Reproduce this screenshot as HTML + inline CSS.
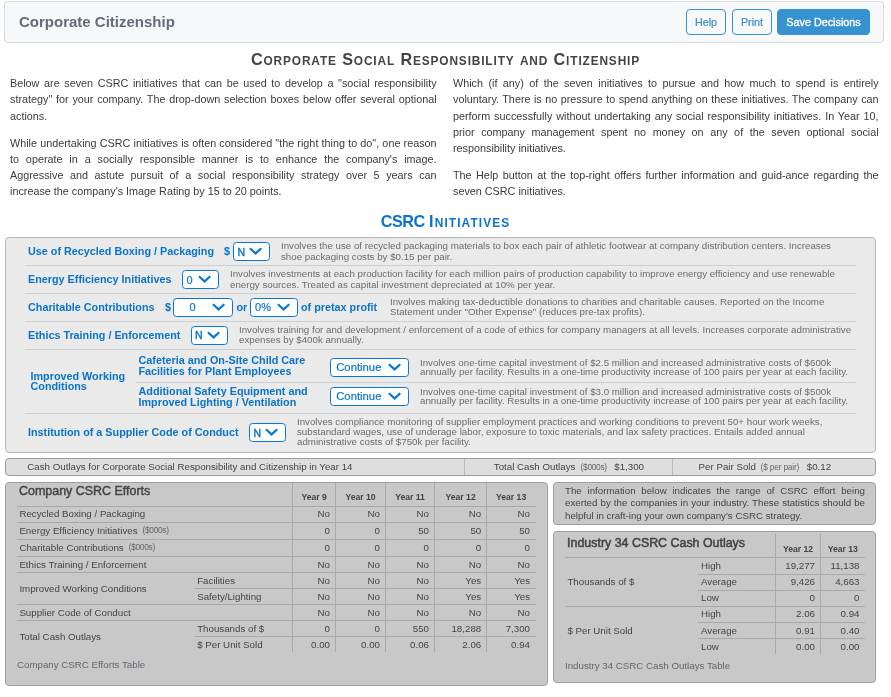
<!DOCTYPE html>
<html><head><meta charset="utf-8"><title>Corporate Citizenship</title>
<style>
*{box-sizing:border-box;margin:0;padding:0}
html,body{width:891px;height:697px;overflow:hidden;background:#fff}
body{position:relative;font-family:"Liberation Sans",Arial,sans-serif;color:#444}
.a{position:absolute;white-space:nowrap}
.hdr{position:absolute;left:4px;top:1px;width:880px;height:42px;border:1px solid #d6d9dc;border-radius:4px;background:#f7f8fa}
.hdr h1{position:absolute;left:14px;top:11px;font-size:15px;line-height:18px;font-weight:bold;color:#636c76}
.btn{position:absolute;top:9px;height:26px;border:1px solid #3a8fd0;border-radius:4px;color:#3a8fd0;font-size:10.8px;line-height:24px;text-align:center;background:transparent;-webkit-text-stroke:0.2px #3a8fd0}
.btn.s{background:#3692d0;color:#fff;border-color:#3692d0;-webkit-text-stroke:0.35px #fff}
.ttl{position:absolute;left:0;width:891px;text-align:center;font-weight:bold;font-size:16.2px;line-height:20px}
.ttl .sc{font-size:11.9px;text-transform:uppercase}
.col{position:absolute;top:75.15px;font-size:10.8px;line-height:16.2px;color:#3a3a3a}
.col p{margin-bottom:10.8px}
.col span{display:block;text-align:justify;text-align-last:justify}
.col span.l{text-align-last:left}
.box{position:absolute;left:5px;top:237px;width:871px;height:216px;border:1px solid #b9b9b9;border-radius:4px;background:#eaeaea}
.sep{position:absolute;height:1px;background:#cfcfcf}
.lb{position:absolute;white-space:nowrap;font-weight:bold;font-size:10.8px;line-height:12px;color:#0a74cc}
.ds{position:absolute;white-space:nowrap;font-size:9.72px;line-height:11px;color:#6c6c6c}
.sel{position:absolute;height:19px;border:1px solid #0a78d0;border-radius:3.5px;background:#fff;color:#0a74cc;font-size:11px;line-height:17px}
.sel span{position:absolute;top:0}
.sel svg{position:absolute}
.bar{position:absolute;left:5px;top:458px;width:871px;height:18px;border:1px solid #9c9c9c;border-radius:4px;background:#dedede;font-size:9.72px;line-height:16px;color:#444}
.bar .c{position:absolute;top:0;height:16px;border-left:1px solid #b9b9b9}
.sm{font-size:7.6px}
.sm2{position:absolute;top:-1.2px;font-size:8.4px;letter-spacing:-0.31px;color:#666}
.pnl{position:absolute;border:1px solid #9e9e9e;border-radius:4px;background:#c8c8c8}
table{border-collapse:collapse;table-layout:fixed;position:absolute;font-size:9.72px;color:#444}
td,th{padding:0;height:16.2px;line-height:12px;white-space:nowrap;overflow:hidden}
</style></head>
<body>
<div class="hdr">
  <h1>Corporate Citizenship</h1>
</div>
<div class="btn" style="left:686px;width:40px">Help</div>
<div class="btn" style="left:732px;width:40px">Print</div>
<div class="btn s" style="left:777px;width:93px">Save Decisions</div>

<div class="ttl" style="top:48.8px;letter-spacing:0.85px">C<span class="sc">orporate</span> S<span class="sc">ocial</span> R<span class="sc">esponsibility</span> <span class="sc">and</span> C<span class="sc">itizenship</span></div>

<div class="col" style="left:10px;width:426.6px">
<p><span>Below are seven CSRC initiatives that can be used to develop a "social responsibility</span><span>strategy" for your company. The drop-down selection boxes below offer several optional</span><span class="l">actions.</span></p>
<p><span>While undertaking CSRC initiatives is often considered "the right thing to do", one reason</span><span>to operate in a socially responsible manner is to enhance the company's image.</span><span>Aggressive and astute pursuit of a social responsibility strategy over 5 years can</span><span class="l">increase the company's Image Rating by 15 to 20 points.</span></p>
</div>
<div class="col" style="left:453px;width:425.6px">
<p><span>Which (if any) of the seven initiatives to pursue and how much to spend is entirely</span><span>voluntary. There is no pressure to spend anything on these initiatives. The company can</span><span>perform successfully without undertaking any social responsibility initiatives. In Year 10,</span><span>prior company management spent no money on any of the seven optional social</span><span class="l">responsibility initiatives.</span></p>
<p><span>The Help button at the top-right offers further information and guid-ance regarding the</span><span class="l">seven CSRC initiatives.</span></p>
</div>

<div class="ttl" style="top:210.5px;color:#0a74cc"><span style="letter-spacing:-0.5px">CSRC</span> <span style="letter-spacing:1.1px">I<span class="sc">nitiatives</span></span></div>

<div class="box"></div>
<!-- separators -->
<div class="sep" style="left:25px;width:831px;top:265px"></div>
<div class="sep" style="left:25px;width:831px;top:293px"></div>
<div class="sep" style="left:25px;width:831px;top:321px"></div>
<div class="sep" style="left:25px;width:831px;top:349px"></div>
<div class="sep" style="left:136px;width:720px;top:382px"></div>
<div class="sep" style="left:25px;width:831px;top:413px"></div>

<!-- ROWS -->
<div class="lb" style="left:28px;top:245px">Use of Recycled Boxing / Packaging</div>
<div class="lb" style="left:224px;top:245px">$</div>
<div class="sel" style="left:233px;top:242px;width:37px"><span style="left:3.6px;top:1px;font-size:10.5px;-webkit-text-stroke:0.4px #0a78d0">N</span><svg style="left:15.0px;top:4.1px" width="14" height="9" viewBox="0 0 14 9"><polyline points="0.9,1.3 6.6,6.4 12.3,1.3" fill="none" stroke="#0a78d0" stroke-width="2.2"/></svg></div>
<div class="ds" style="left:281px;top:240px">Involves the use of recycled packaging materials to box each pair of athletic footwear at company distribution centers. Increases</div>
<div class="ds" style="left:281px;top:251px">shoe packaging costs by $0.15 per pair.</div>
<div class="lb" style="left:28px;top:273px">Energy Efficiency Initiatives</div>
<div class="sel" style="left:182px;top:270px;width:37px"><span style="left:3.6px;top:1px;-webkit-text-stroke:0.2px #0a78d0">0</span><svg style="left:15.0px;top:4.1px" width="14" height="9" viewBox="0 0 14 9"><polyline points="0.9,1.3 6.6,6.4 12.3,1.3" fill="none" stroke="#0a78d0" stroke-width="2.2"/></svg></div>
<div class="ds" style="left:230px;top:268px">Involves investments at each production facility for each million pairs of production capability to improve energy efficiency and use renewable</div>
<div class="ds" style="left:230px;top:279px">energy sources. Treated as capital investment depreciated at 10% per year.</div>
<div class="lb" style="left:28px;top:301px">Charitable Contributions</div>
<div class="lb" style="left:165px;top:301px">$</div>
<div class="sel" style="left:173px;top:298px;width:60px"><span style="left:15.4px;top:0px;-webkit-text-stroke:0.2px #0a78d0">0</span><svg style="left:38.0px;top:4.1px" width="14" height="9" viewBox="0 0 14 9"><polyline points="0.9,1.3 6.6,6.4 12.3,1.3" fill="none" stroke="#0a78d0" stroke-width="2.2"/></svg></div>
<div class="lb" style="left:236.5px;top:301px">or</div>
<div class="sel" style="left:250px;top:298px;width:48px"><span style="left:4.1px;top:0px;-webkit-text-stroke:0.2px #0a78d0">0%</span><svg style="left:26.0px;top:4.1px" width="14" height="9" viewBox="0 0 14 9"><polyline points="0.9,1.3 6.6,6.4 12.3,1.3" fill="none" stroke="#0a78d0" stroke-width="2.2"/></svg></div>
<div class="lb" style="left:301px;top:301px">of pretax profit</div>
<div class="ds" style="left:390px;top:296px">Involves making tax-deductible donations to charities and charitable causes. Reported on the Income</div>
<div class="ds" style="left:390px;top:306px">Statement under "Other Expense" (reduces pre-tax profits).</div>
<div class="lb" style="left:28px;top:329px">Ethics Training / Enforcement</div>
<div class="sel" style="left:191px;top:326px;width:37px"><span style="left:3.0px;top:0px;font-size:10.5px;-webkit-text-stroke:0.4px #0a78d0">N</span><svg style="left:15.0px;top:4.1px" width="14" height="9" viewBox="0 0 14 9"><polyline points="0.9,1.3 6.6,6.4 12.3,1.3" fill="none" stroke="#0a78d0" stroke-width="2.2"/></svg></div>
<div class="ds" style="left:239px;top:324px">Involves training for and development / enforcement of a code of ethics for company managers at all levels. Increases corporate administrative</div>
<div class="ds" style="left:239px;top:334px">expenses by $400k annually.</div>
<div class="lb" style="left:30.5px;top:370px">Improved Working</div>
<div class="lb" style="left:30.5px;top:380px">Conditions</div>
<div class="lb" style="left:138.5px;top:354px">Cafeteria and On-Site Child Care</div>
<div class="lb" style="left:138.5px;top:365px">Facilities for Plant Employees</div>
<div class="sel" style="left:330px;top:358px;width:79px"><span style="left:5.2px;top:0px;-webkit-text-stroke:0.2px #0a78d0;font-size:11.3px">Continue</span><svg style="left:57.0px;top:4.1px" width="14" height="9" viewBox="0 0 14 9"><polyline points="0.9,1.3 6.6,6.4 12.3,1.3" fill="none" stroke="#0a78d0" stroke-width="2.2"/></svg></div>
<div class="ds" style="left:420px;top:357px">Involves one-time capital investment of $2.5 million and increased administrative costs of $600k</div>
<div class="ds" style="left:420px;top:366px">annually per facility. Results in a one-time productivity increase of 100 pairs per year at each facility.</div>
<div class="lb" style="left:138.5px;top:385px">Additional Safety Equipment and</div>
<div class="lb" style="left:138.5px;top:396px">Improved Lighting / Ventilation</div>
<div class="sel" style="left:330px;top:387px;width:79px"><span style="left:5.2px;top:0px;-webkit-text-stroke:0.2px #0a78d0;font-size:11.3px">Continue</span><svg style="left:57.0px;top:4.1px" width="14" height="9" viewBox="0 0 14 9"><polyline points="0.9,1.3 6.6,6.4 12.3,1.3" fill="none" stroke="#0a78d0" stroke-width="2.2"/></svg></div>
<div class="ds" style="left:420px;top:386px">Involves one-time capital investment of $3.0 million and increased administrative costs of $500k</div>
<div class="ds" style="left:420px;top:395px">annually per facility. Results in a one-time productivity increase of 100 pairs per year at each facility.</div>
<div class="lb" style="left:28px;top:426px">Institution of a Supplier Code of Conduct</div>
<div class="sel" style="left:249px;top:423px;width:37px"><span style="left:3.6px;top:1px;font-size:10.5px;-webkit-text-stroke:0.4px #0a78d0">N</span><svg style="left:15.0px;top:4.1px" width="14" height="9" viewBox="0 0 14 9"><polyline points="0.9,1.3 6.6,6.4 12.3,1.3" fill="none" stroke="#0a78d0" stroke-width="2.2"/></svg></div>
<div class="ds" style="left:297px;top:416px">Involves compliance monitoring of supplier employment practices and working conditions to prevent 50+ hour work weeks,</div>
<div class="ds" style="left:297px;top:426px">substandard wages, use of underage labor, exposure to toxic materials, and lax safety practices. Entails added annual</div>
<div class="ds" style="left:297px;top:436px">administrative costs of $750k per facility.</div>
<!-- /ROWS -->
<!-- cash bar -->
<div class="bar">
  <div class="a" style="left:21.3px;top:0.2px">Cash Outlays for Corporate Social Responsibility and Citizenship in Year 14</div>
  <div class="c" style="left:458px;width:208px"></div>
  <div class="c" style="left:666px;width:203px"></div>
  <div class="a" style="left:487.8px;top:0.2px">Total Cash Outlays</div>
  <div class="a sm2" style="left:574.6px;top:-0.3px">($000s)</div>
  <div class="a" style="left:608.3px;top:0.2px">$1,300</div>
  <div class="a" style="left:692.6px;top:0.2px">Per Pair Sold</div>
  <div class="a sm2" style="left:754.6px;top:-0.3px;letter-spacing:-0.2px">($ per pair)</div>
  <div class="a" style="left:800.8px;top:0.2px">$0.12</div>
</div>

<!-- bottom left panel -->
<div class="pnl" style="left:5px;top:482px;width:543px;height:204px"></div>
<!-- info box -->
<div class="pnl" style="left:553px;top:482px;width:323px;height:43px"></div>
<div class="a" style="left:565px;top:484.7px;width:300px;white-space:normal;font-size:9.72px;line-height:12.45px;color:#444">
<span style="display:block;text-align:justify;text-align-last:justify">The information below indicates the range of CSRC effort being</span><span style="display:block;text-align:justify;text-align-last:justify">exerted by the companies in your industry. These statistics should be</span><span style="display:block">helpful in craft-ing your own company's CSRC strategy.</span></div>
<!-- industry panel -->
<div class="pnl" style="left:553px;top:531px;width:323px;height:152px"></div>

<!-- TABLES -->
<div class="a" style="left:292px;top:483px;width:1px;height:169px;background:#a9a9a9"></div>
<div class="a" style="left:335px;top:483px;width:1px;height:169px;background:#a9a9a9"></div>
<div class="a" style="left:385px;top:483px;width:1px;height:169px;background:#a9a9a9"></div>
<div class="a" style="left:434px;top:483px;width:1px;height:169px;background:#a9a9a9"></div>
<div class="a" style="left:486px;top:483px;width:1px;height:169px;background:#a9a9a9"></div>
<div class="a" style="left:17px;top:506px;width:519px;height:1px;background:#a9a9a9"></div>
<div class="a" style="left:17px;top:522px;width:519px;height:1px;background:#a9a9a9"></div>
<div class="a" style="left:17px;top:539px;width:519px;height:1px;background:#a9a9a9"></div>
<div class="a" style="left:17px;top:556px;width:519px;height:1px;background:#a9a9a9"></div>
<div class="a" style="left:17px;top:572px;width:519px;height:1px;background:#a9a9a9"></div>
<div class="a" style="left:195px;top:588px;width:341px;height:1px;background:#a9a9a9"></div>
<div class="a" style="left:17px;top:604px;width:519px;height:1px;background:#a9a9a9"></div>
<div class="a" style="left:17px;top:620px;width:519px;height:1px;background:#a9a9a9"></div>
<div class="a" style="left:195px;top:636px;width:341px;height:1px;background:#a9a9a9"></div>
<div class="a" style="top:485.40px;font-size:12.45px;line-height:12px;color:#444;left:19.1px;-webkit-text-stroke:0.45px #444;">Company CSRC Efforts</div>
<div class="a" style="top:490.80px;font-size:8.64px;line-height:12px;color:#444;font-weight:bold;left:264.15px;width:100px;text-align:center;">Year 9</div>
<div class="a" style="top:490.80px;font-size:8.64px;line-height:12px;color:#444;font-weight:bold;left:310.5px;width:100px;text-align:center;">Year 10</div>
<div class="a" style="top:490.80px;font-size:8.64px;line-height:12px;color:#444;font-weight:bold;left:360.0px;width:100px;text-align:center;">Year 11</div>
<div class="a" style="top:490.80px;font-size:8.64px;line-height:12px;color:#444;font-weight:bold;left:410.6px;width:100px;text-align:center;">Year 12</div>
<div class="a" style="top:490.80px;font-size:8.64px;line-height:12px;color:#444;font-weight:bold;left:461.1px;width:100px;text-align:center;">Year 13</div>
<div class="a" style="top:507.80px;font-size:9.72px;line-height:12px;color:#444;left:19.4px;">Recycled Boxing / Packaging</div>
<div class="a" style="top:507.80px;font-size:9.72px;line-height:12px;color:#444;right:561.0px;text-align:right;">No</div>
<div class="a" style="top:507.80px;font-size:9.72px;line-height:12px;color:#444;right:511.0px;text-align:right;">No</div>
<div class="a" style="top:507.80px;font-size:9.72px;line-height:12px;color:#444;right:462.0px;text-align:right;">No</div>
<div class="a" style="top:507.80px;font-size:9.72px;line-height:12px;color:#444;right:409.8px;text-align:right;">No</div>
<div class="a" style="top:507.80px;font-size:9.72px;line-height:12px;color:#444;right:361.0px;text-align:right;">No</div>
<div class="a" style="top:524.80px;font-size:9.72px;line-height:12px;color:#444;left:19.4px;">Energy Efficiency Initiatives<span class="sm2" style="left:123.1px">($000s)</span></div>
<div class="a" style="top:524.80px;font-size:9.72px;line-height:12px;color:#444;right:561.0px;text-align:right;">0</div>
<div class="a" style="top:524.80px;font-size:9.72px;line-height:12px;color:#444;right:511.0px;text-align:right;">0</div>
<div class="a" style="top:524.80px;font-size:9.72px;line-height:12px;color:#444;right:462.0px;text-align:right;">50</div>
<div class="a" style="top:524.80px;font-size:9.72px;line-height:12px;color:#444;right:409.8px;text-align:right;">50</div>
<div class="a" style="top:524.80px;font-size:9.72px;line-height:12px;color:#444;right:361.0px;text-align:right;">50</div>
<div class="a" style="top:541.80px;font-size:9.72px;line-height:12px;color:#444;left:19.4px;">Charitable Contributions<span class="sm2" style="left:109.3px">($000s)</span></div>
<div class="a" style="top:541.80px;font-size:9.72px;line-height:12px;color:#444;right:561.0px;text-align:right;">0</div>
<div class="a" style="top:541.80px;font-size:9.72px;line-height:12px;color:#444;right:511.0px;text-align:right;">0</div>
<div class="a" style="top:541.80px;font-size:9.72px;line-height:12px;color:#444;right:462.0px;text-align:right;">0</div>
<div class="a" style="top:541.80px;font-size:9.72px;line-height:12px;color:#444;right:409.8px;text-align:right;">0</div>
<div class="a" style="top:541.80px;font-size:9.72px;line-height:12px;color:#444;right:361.0px;text-align:right;">0</div>
<div class="a" style="top:558.80px;font-size:9.72px;line-height:12px;color:#444;left:19.4px;">Ethics Training / Enforcement</div>
<div class="a" style="top:558.80px;font-size:9.72px;line-height:12px;color:#444;right:561.0px;text-align:right;">No</div>
<div class="a" style="top:558.80px;font-size:9.72px;line-height:12px;color:#444;right:511.0px;text-align:right;">No</div>
<div class="a" style="top:558.80px;font-size:9.72px;line-height:12px;color:#444;right:462.0px;text-align:right;">No</div>
<div class="a" style="top:558.80px;font-size:9.72px;line-height:12px;color:#444;right:409.8px;text-align:right;">No</div>
<div class="a" style="top:558.80px;font-size:9.72px;line-height:12px;color:#444;right:361.0px;text-align:right;">No</div>
<div class="a" style="top:574.80px;font-size:9.72px;line-height:12px;color:#444;left:197.2px;">Facilities</div>
<div class="a" style="top:574.80px;font-size:9.72px;line-height:12px;color:#444;right:561.0px;text-align:right;">No</div>
<div class="a" style="top:574.80px;font-size:9.72px;line-height:12px;color:#444;right:511.0px;text-align:right;">No</div>
<div class="a" style="top:574.80px;font-size:9.72px;line-height:12px;color:#444;right:462.0px;text-align:right;">No</div>
<div class="a" style="top:574.80px;font-size:9.72px;line-height:12px;color:#444;right:409.8px;text-align:right;">Yes</div>
<div class="a" style="top:574.80px;font-size:9.72px;line-height:12px;color:#444;right:361.0px;text-align:right;">Yes</div>
<div class="a" style="top:590.80px;font-size:9.72px;line-height:12px;color:#444;left:197.2px;">Safety/Lighting</div>
<div class="a" style="top:590.80px;font-size:9.72px;line-height:12px;color:#444;right:561.0px;text-align:right;">No</div>
<div class="a" style="top:590.80px;font-size:9.72px;line-height:12px;color:#444;right:511.0px;text-align:right;">No</div>
<div class="a" style="top:590.80px;font-size:9.72px;line-height:12px;color:#444;right:462.0px;text-align:right;">No</div>
<div class="a" style="top:590.80px;font-size:9.72px;line-height:12px;color:#444;right:409.8px;text-align:right;">Yes</div>
<div class="a" style="top:590.80px;font-size:9.72px;line-height:12px;color:#444;right:361.0px;text-align:right;">Yes</div>
<div class="a" style="top:606.80px;font-size:9.72px;line-height:12px;color:#444;left:19.4px;">Supplier Code of Conduct</div>
<div class="a" style="top:606.80px;font-size:9.72px;line-height:12px;color:#444;right:561.0px;text-align:right;">No</div>
<div class="a" style="top:606.80px;font-size:9.72px;line-height:12px;color:#444;right:511.0px;text-align:right;">No</div>
<div class="a" style="top:606.80px;font-size:9.72px;line-height:12px;color:#444;right:462.0px;text-align:right;">No</div>
<div class="a" style="top:606.80px;font-size:9.72px;line-height:12px;color:#444;right:409.8px;text-align:right;">No</div>
<div class="a" style="top:606.80px;font-size:9.72px;line-height:12px;color:#444;right:361.0px;text-align:right;">No</div>
<div class="a" style="top:622.80px;font-size:9.72px;line-height:12px;color:#444;left:197.2px;">Thousands of $</div>
<div class="a" style="top:622.80px;font-size:9.72px;line-height:12px;color:#444;right:561.0px;text-align:right;">0</div>
<div class="a" style="top:622.80px;font-size:9.72px;line-height:12px;color:#444;right:511.0px;text-align:right;">0</div>
<div class="a" style="top:622.80px;font-size:9.72px;line-height:12px;color:#444;right:462.0px;text-align:right;">550</div>
<div class="a" style="top:622.80px;font-size:9.72px;line-height:12px;color:#444;right:409.8px;text-align:right;">18,288</div>
<div class="a" style="top:622.80px;font-size:9.72px;line-height:12px;color:#444;right:361.0px;text-align:right;">7,300</div>
<div class="a" style="top:638.80px;font-size:9.72px;line-height:12px;color:#444;left:197.2px;">$ Per Unit Sold</div>
<div class="a" style="top:638.80px;font-size:9.72px;line-height:12px;color:#444;right:561.0px;text-align:right;">0.00</div>
<div class="a" style="top:638.80px;font-size:9.72px;line-height:12px;color:#444;right:511.0px;text-align:right;">0.00</div>
<div class="a" style="top:638.80px;font-size:9.72px;line-height:12px;color:#444;right:462.0px;text-align:right;">0.06</div>
<div class="a" style="top:638.80px;font-size:9.72px;line-height:12px;color:#444;right:409.8px;text-align:right;">2.06</div>
<div class="a" style="top:638.80px;font-size:9.72px;line-height:12px;color:#444;right:361.0px;text-align:right;">0.94</div>
<div class="a" style="top:582.80px;font-size:9.72px;line-height:12px;color:#444;left:19.4px;">Improved Working Conditions</div>
<div class="a" style="top:630.80px;font-size:9.72px;line-height:12px;color:#444;left:19.4px;">Total Cash Outlays</div>
<div class="a" style="top:658.80px;font-size:9.72px;line-height:12px;color:#62676e;left:17px;">Company CSRC Efforts Table</div>
<div class="a" style="left:775px;top:534px;width:1px;height:120px;background:#a9a9a9"></div>
<div class="a" style="left:820px;top:534px;width:1px;height:120px;background:#a9a9a9"></div>
<div class="a" style="left:565px;top:557px;width:300px;height:1px;background:#a9a9a9"></div>
<div class="a" style="left:698px;top:574px;width:167px;height:1px;background:#a9a9a9"></div>
<div class="a" style="left:698px;top:590px;width:167px;height:1px;background:#a9a9a9"></div>
<div class="a" style="left:565px;top:606px;width:300px;height:1px;background:#a9a9a9"></div>
<div class="a" style="left:698px;top:622px;width:167px;height:1px;background:#a9a9a9"></div>
<div class="a" style="left:698px;top:638px;width:167px;height:1px;background:#a9a9a9"></div>
<div class="a" style="top:537.40px;font-size:12.42px;line-height:12px;color:#444;left:567.1px;-webkit-text-stroke:0.5px #444;">Industry 34 CSRC Cash Outlays</div>
<div class="a" style="top:542.70px;font-size:8.64px;line-height:12px;color:#444;font-weight:bold;left:748.05px;width:100px;text-align:center;">Year 12</div>
<div class="a" style="top:542.70px;font-size:8.64px;line-height:12px;color:#444;font-weight:bold;left:792.75px;width:100px;text-align:center;">Year 13</div>
<div class="a" style="top:559.80px;font-size:9.72px;line-height:12px;color:#444;left:701px;">High</div>
<div class="a" style="top:559.80px;font-size:9.72px;line-height:12px;color:#444;right:76.0px;text-align:right;">19,277</div>
<div class="a" style="top:559.80px;font-size:9.72px;line-height:12px;color:#444;right:31.5px;text-align:right;">11,138</div>
<div class="a" style="top:575.80px;font-size:9.72px;line-height:12px;color:#444;left:701px;">Average</div>
<div class="a" style="top:575.80px;font-size:9.72px;line-height:12px;color:#444;right:76.0px;text-align:right;">9,426</div>
<div class="a" style="top:575.80px;font-size:9.72px;line-height:12px;color:#444;right:31.5px;text-align:right;">4,663</div>
<div class="a" style="top:591.80px;font-size:9.72px;line-height:12px;color:#444;left:701px;">Low</div>
<div class="a" style="top:591.80px;font-size:9.72px;line-height:12px;color:#444;right:76.0px;text-align:right;">0</div>
<div class="a" style="top:591.80px;font-size:9.72px;line-height:12px;color:#444;right:31.5px;text-align:right;">0</div>
<div class="a" style="top:607.80px;font-size:9.72px;line-height:12px;color:#444;left:701px;">High</div>
<div class="a" style="top:607.80px;font-size:9.72px;line-height:12px;color:#444;right:76.0px;text-align:right;">2.06</div>
<div class="a" style="top:607.80px;font-size:9.72px;line-height:12px;color:#444;right:31.5px;text-align:right;">0.94</div>
<div class="a" style="top:624.80px;font-size:9.72px;line-height:12px;color:#444;left:701px;">Average</div>
<div class="a" style="top:624.80px;font-size:9.72px;line-height:12px;color:#444;right:76.0px;text-align:right;">0.91</div>
<div class="a" style="top:624.80px;font-size:9.72px;line-height:12px;color:#444;right:31.5px;text-align:right;">0.40</div>
<div class="a" style="top:640.80px;font-size:9.72px;line-height:12px;color:#444;left:701px;">Low</div>
<div class="a" style="top:640.80px;font-size:9.72px;line-height:12px;color:#444;right:76.0px;text-align:right;">0.00</div>
<div class="a" style="top:640.80px;font-size:9.72px;line-height:12px;color:#444;right:31.5px;text-align:right;">0.00</div>
<div class="a" style="top:575.80px;font-size:9.72px;line-height:12px;color:#444;left:567.4px;">Thousands of $</div>
<div class="a" style="top:624.80px;font-size:9.72px;line-height:12px;color:#444;left:567.4px;">$ Per Unit Sold</div>
<div class="a" style="top:659.80px;font-size:9.72px;line-height:12px;color:#62676e;left:565px;">Industry 34 CSRC Cash Outlays Table</div>
<!-- /TABLES -->
</body></html>
